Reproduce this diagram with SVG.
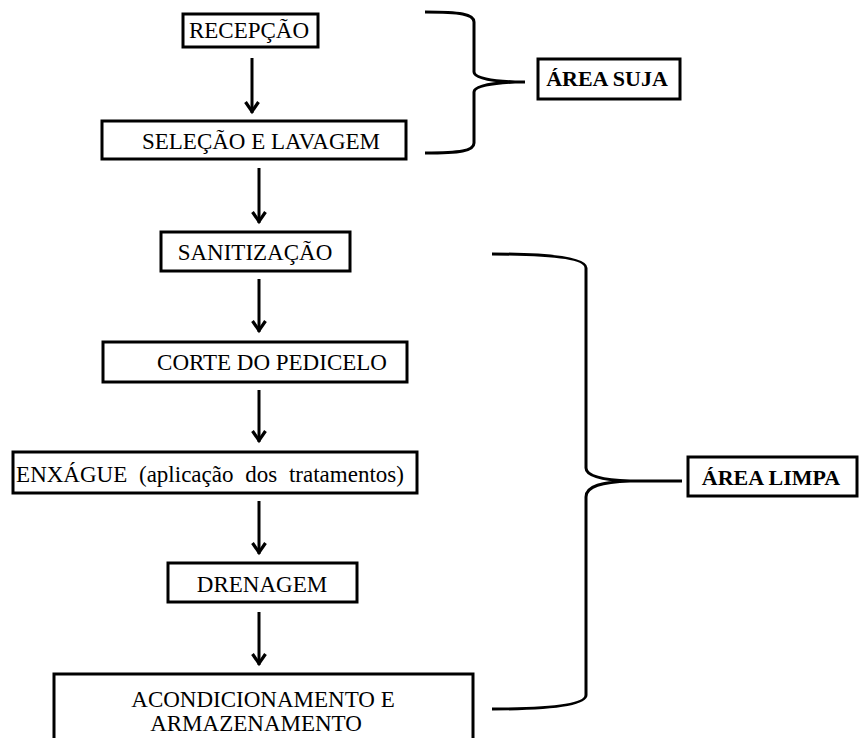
<svg xmlns="http://www.w3.org/2000/svg" width="860" height="738" viewBox="0 0 860 738">
<defs>
<style>
.box{fill:#fff;stroke:#000;stroke-width:3}
.t{font-family:"Liberation Serif","Times New Roman",serif;font-size:23px;fill:#000;text-anchor:middle}
.b{font-weight:bold;font-size:22px}
.arr{stroke:#000;stroke-width:3;fill:none;marker-end:url(#ah)}
.brace{stroke:#000;stroke-width:3;fill:none}
</style>
<marker id="ah" markerUnits="userSpaceOnUse" viewBox="-14 -9 16 18" markerWidth="16" markerHeight="18" refX="0" refY="0" orient="auto">
<path d="M-11,-6.5 L-1.5,0 L-11,6.5" fill="none" stroke="#000" stroke-width="3.2" stroke-linejoin="miter"/>
</marker>
</defs>
<rect width="860" height="738" fill="#fff"/>
<g id="connectors">
<line class="arr" x1="252" y1="58" x2="252" y2="113"/>
<line class="arr" x1="259" y1="168" x2="259" y2="223"/>
<line class="arr" x1="259" y1="279" x2="259" y2="332"/>
<line class="arr" x1="259" y1="390" x2="259" y2="442"/>
<line class="arr" x1="259" y1="501" x2="259" y2="554"/>
<line class="arr" x1="259" y1="612" x2="259" y2="665"/>
<path id="brace-suja" class="brace" d="M425,12 C460,12 474,14 474,22 L474,72 C474,78 492,81 515,82 L525,82 M515,82 C492,83 474,86 474,92 L474,143 C474,151 460,153 425,153"/>
<path id="brace-limpa" class="brace" d="M492,254 C550,254 586,258 586,268 L586,468 C586,476 602,480 630,481 L682,481 M630,481 C602,482 586,486 586,497 L586,695 C586,705 550,709 492,709"/>
</g>
<g id="n-recepcao"><rect class="box" x="183" y="14" width="135" height="33"/><text class="t" x="249" y="38" font-size="22">RECEPÇÃO</text></g>
<g id="n-selecao"><rect class="box" x="102" y="121" width="304" height="38"/><text class="t" x="261" y="149">SELEÇÃO E LAVAGEM</text></g>
<g id="n-sanitizacao"><rect class="box" x="161" y="232" width="189" height="39"/><text class="t" x="255" y="260">SANITIZAÇÃO</text></g>
<g id="n-corte"><rect class="box" x="103" y="342" width="304" height="40"/><text class="t" x="272" y="370">CORTE DO PEDICELO</text></g>
<g id="n-enxague"><rect class="box" x="13" y="452" width="404" height="41"/><text class="t" x="210" y="482" word-spacing="6">ENXÁGUE (aplicação dos tratamentos)</text></g>
<g id="n-drenagem"><rect class="box" x="168" y="563" width="189" height="39"/><text class="t" x="262" y="592">DRENAGEM</text></g>
<g id="n-acond"><rect class="box" x="54" y="674" width="419" height="72"/><text class="t" x="263" y="707" font-size="23.5">ACONDICIONAMENTO E</text><text class="t" x="256" y="731" font-size="23.5">ARMAZENAMENTO</text></g>
<g id="n-area-suja"><rect class="box" x="538" y="59" width="142" height="40"/><text class="t b" x="607" y="86">ÁREA SUJA</text></g>
<g id="n-area-limpa"><rect class="box" x="688" y="457" width="169" height="39"/><text class="t b" x="771" y="485">ÁREA LIMPA</text></g>
</svg>
